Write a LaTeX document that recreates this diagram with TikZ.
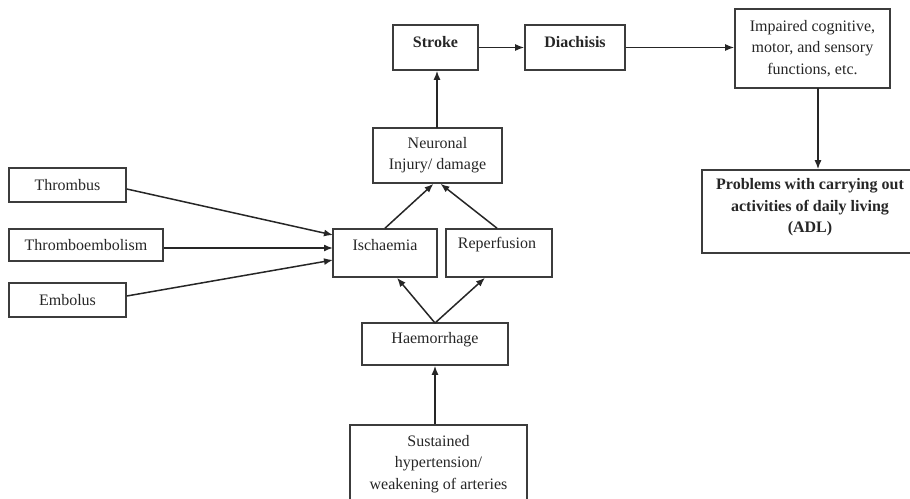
\documentclass[tikz,border=0pt]{standalone}
\usepackage{fontspec}
\setmainfont{Liberation Serif}
\usetikzlibrary{arrows.meta,calc}
\definecolor{ink}{HTML}{262626}
\definecolor{frame}{HTML}{3C3C3C}
\begin{document}
\begin{tikzpicture}[x=1pt,y=-1pt,
  box/.style={draw=frame,line width=1.6pt,rectangle,inner sep=0pt},
  txt/.style={text=ink,align=center,inner sep=0pt,font=\fontsize{16}{21.5}\selectfont},
  btxt/.style={txt,font=\fontsize{16}{21.5}\selectfont\bfseries},
  link/.style={draw=ink,line width=1.5pt,-{Latex[length=9pt,width=7pt]}}]
\useasboundingbox (0,0) rectangle (910,498);

% boxes, given by their corners
\newcommand{\flowbox}[5]{%
  \node[box,minimum width={(#4)-(#2)},minimum height={(#5)-(#3)}] (#1) at ({((#2)+(#4))/2},{((#3)+(#5))/2}) {};}
\flowbox{stroke}{393}{25}{478}{70}
\flowbox{diach}{525}{25}{625}{70}
\flowbox{impaired}{735}{9}{890}{88}
\flowbox{adl}{702}{170}{918}{253}
\flowbox{neuronal}{373}{128}{502}{183}
\flowbox{isch}{333}{229}{437}{277}
\flowbox{reperf}{446}{229}{552}{277}
\flowbox{haem}{362}{323}{508}{365}
\flowbox{sust}{350}{425}{527}{530}
\flowbox{thrombus}{9}{168}{126}{202}
\flowbox{thromboemb}{9}{229}{163}{261}
\flowbox{embolus}{9}{283}{126}{317}

% labels
\node[btxt] (stroke-t) at (435.5,42) {Stroke};
\node[btxt] (diach-t) at (575,42) {Diachisis};
\node[txt] (impaired-t) at (812.5,48.5) {Impaired cognitive,\\motor, and sensory\\functions, etc.};
\node[btxt] (adl-t) at (810,207.5) {Problems with carrying out\\activities of daily living\\(ADL)};
\node[txt] (neuronal-t) at (437.5,155) {Neuronal\\Injury/ damage};
\node[txt] (isch-t) at (385,245) {Ischaemia};
\node[txt] (reperf-t) at (497,245) {Reperfusion};
\node[txt] (haem-t) at (435,340) {Haemorrhage};
\node[txt] (sust-t) at (438.5,464) {Sustained\\hypertension/\\weakening of arteries};
\node[txt] (thrombus-t) at (67.5,185) {Thrombus};
\node[txt] (thromboemb-t) at (86,245) {Thromboembolism};
\node[txt] (embolus-t) at (67.5,300) {Embolus};

% connector end points on box edges
\coordinate (n-up) at (437,128);
\coordinate (a-down) at (818,88);
\coordinate (i-in1) at (333,235);
\coordinate (i-in2) at (333,248);
\coordinate (i-in3) at (333,260);
\coordinate (h-top) at (435,323);

% connectors
\draw[link] (n-up) -- (n-up |- stroke.south);
\draw[link] (stroke.east) -- (diach.west);
\draw[link] (diach.east) -- (diach.east -| impaired.west);
\draw[link] (a-down) -- (a-down |- adl.north);
\draw[link] (isch.north) -- ($(neuronal.south)+(-4,0)$);
\draw[link] ($(reperf.north)+(-2,0)$) -- ($(neuronal.south)+(3,0)$);
\draw[link] (h-top) -- ($(isch.south)+(12,0)$);
\draw[link] (h-top) -- ($(reperf.south)+(-14,0)$);
\draw[link] (sust.north -| h-top) -- (haem.south -| h-top);
\draw[link] ($(thrombus.east)+(0,4)$) -- (i-in1);
\draw[link] (thromboemb.east |- i-in2) -- (i-in2);
\draw[link] ($(embolus.east)+(0,-4)$) -- (i-in3);
\end{tikzpicture}
\end{document}
